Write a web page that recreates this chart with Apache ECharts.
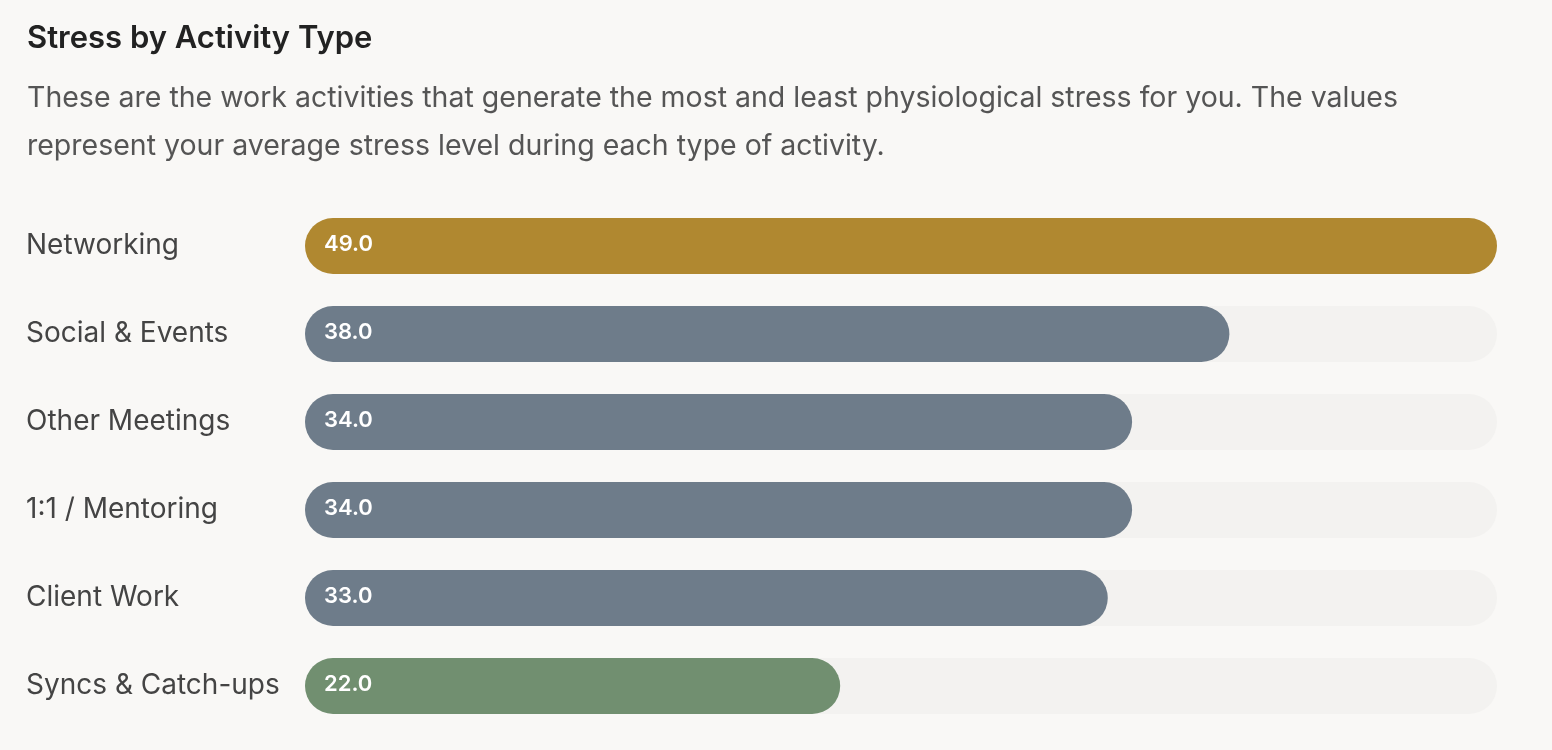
<!DOCTYPE html>
<html><head><meta charset="utf-8">
<script src="https://cdn.jsdelivr.net/npm/echarts@6/dist/echarts.min.js"></script>
<style>html,body{margin:0;background:#f9f8f6}#c{width:1552px;height:750px}</style>
</head><body><div id="c"></div>
<script>
const categories = ["Networking","Social & Events","Other Meetings","1:1 / Mentoring","Client Work","Syncs & Catch-ups"];
const values = [49.0, 38.0, 34.0, 34.0, 33.0, 22.0];
const colors = ["#b08830","#6e7c8a","#6e7c8a","#6e7c8a","#6e7c8a","#718f70"];
const chart = echarts.init(document.getElementById('c'));
chart.setOption({
  backgroundColor:'#f9f8f6',
  title:{text:'Stress by Activity Type',left:22,top:18,
    textStyle:{fontFamily:'Inter',fontSize:31,fontWeight:600,color:'#222'},
    subtext:'These are the work activities that generate the most and least physiological stress for you. The values\nrepresent your average stress level during each type of activity.',
    itemGap:20,
    subtextStyle:{fontFamily:'Inter',fontSize:28.5,color:'#555',lineHeight:48}},
  grid:{left:305,right:55,top:202,bottom:20,containLabel:false},
  xAxis:{type:'value',min:0,max:49,show:false},
  yAxis:{type:'category',data:categories,inverse:true,axisLine:{show:false},axisTick:{show:false},
    axisLabel:{margin:279,align:'left',fontFamily:'Inter',fontSize:28,color:'#444'}},
  series:[{type:'bar',barWidth:56,
    data:values.map((v,i)=>({value:v,itemStyle:{color:colors[i]}})),
    itemStyle:{borderRadius:28},
    showBackground:true,backgroundStyle:{color:'#f3f2f0',borderRadius:28},
    label:{show:true,position:'insideLeft',offset:[14,-2],formatter:p=>p.value.toFixed(1),
      fontFamily:'Inter',fontSize:22,fontWeight:600,color:'#fff'}}]
});
</script></body></html>
